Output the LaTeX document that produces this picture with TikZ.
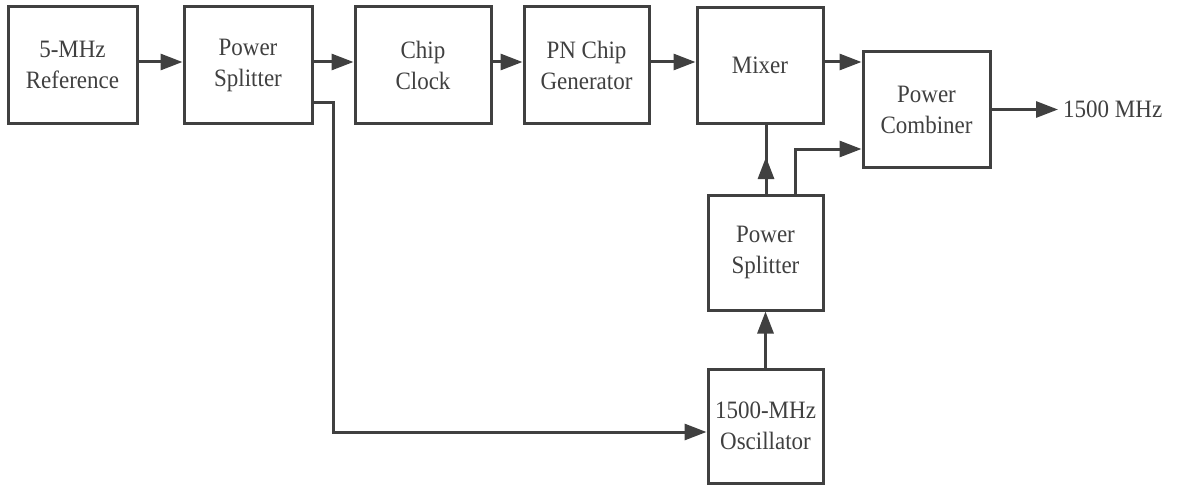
\documentclass[tikz,border=0pt]{standalone}
\usepackage{fontspec}
\setmainfont[FakeStretch=0.92]{Liberation Serif}
\usetikzlibrary{arrows.meta}
\definecolor{ink}{HTML}{404040}
\begin{document}
\begin{tikzpicture}[x=1pt,y=-1pt,
  blk/.style={draw=ink, line width=3pt, align=center, inner sep=0pt,
    font=\fontsize{25}{31}\selectfont, text=ink},
  wire/.style={draw=ink, line width=3pt},
  arr/.style={wire, -{Triangle[length=22pt,width=16pt]}}]
\useasboundingbox (0,0) rectangle (1177,487);
\node[blk, minimum width=129pt, minimum height=116pt] (ref) at (72.5,65) {5-MHz\\Reference};
\node[blk, minimum width=128pt, minimum height=116pt] (sp1) at (248,65) {Power\\Splitter};
\node[blk, minimum width=136pt, minimum height=116pt] (clk) at (423,65) {Chip\\Clock};
\node[blk, minimum width=125pt, minimum height=116pt] (pn) at (586.5,65) {PN Chip\\Generator};
\node[blk, minimum width=126pt, minimum height=115pt] (mix) at (760,65.5) {Mixer};
\node[blk, minimum width=127pt, minimum height=115pt] (comb) at (926.5,109.5) {Power\\Combiner};
\node[blk, minimum width=115pt, minimum height=115pt] (sp2) at (765.5,252.5) {Power\\Splitter};
\node[blk, minimum width=115pt, minimum height=114pt] (osc) at (765.5,426) {1500-MHz\\Oscillator};
\node[anchor=west, inner sep=0pt, text=ink, font=\fontsize{25}{31}\selectfont] (out) at (1063,109.5) {1500 MHz};

\draw[arr] (ref.east |- 0,62) -- (sp1.west |- 0,62);
\draw[arr] (sp1.east |- 0,62) -- (clk.west |- 0,62);
\draw[arr] (clk.east |- 0,62) -- (pn.west |- 0,62);
\draw[arr] (pn.east |- 0,62) -- (mix.west |- 0,62);
\draw[arr] (mix.east |- 0,62) -- (comb.west |- 0,62);
\draw[arr] (comb.east) -- ([xshift=-5pt]out.west);
\draw[arr] (sp1.east |- 0,102) -- (333,102) -- (333,432) -- (osc.west |- 0,432);
\draw[arr] (osc.north) -- (sp2.south);
\draw[wire] (sp2.north -| 766,0) -- (mix.south -| 766,0);
\draw[arr] (sp2.north -| 766,0) -- (766,157);
\draw[arr] (sp2.north -| 795,0) -- (795,149) -- (comb.west |- 0,149);
\end{tikzpicture}
\end{document}
